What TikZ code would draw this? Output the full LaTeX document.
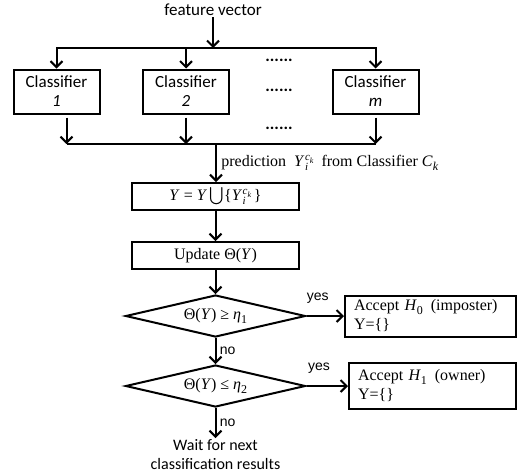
\documentclass[tikz,border=0pt]{standalone}
\usepackage{fontspec}
\usepackage{amsmath}
\setmainfont{Liberation Serif}
\newfontfamily\calib{Carlito}
\newfontfamily\arial{Liberation Sans}
\usetikzlibrary{arrows.meta,positioning,shapes.geometric}
\newcommand{\lowsub}[1]{\raisebox{-3.5pt}{\fontsize{12}{12}\selectfont #1}}
\newcommand{\Yik}{\textit{Y}\kern0.5pt\makebox[0pt][l]{\raisebox{-4pt}{\fontsize{11}{11}\selectfont\textit{i}}}\raisebox{6pt}{\fontsize{11}{11}\selectfont\textit{c}\raisebox{-2.5pt}{\fontsize{8}{8}\selectfont\textit{k}}}}

\begin{document}
\begin{tikzpicture}[
  x=1pt, y=1pt,
  font=\fontsize{16}{19}\selectfont,
  box/.style={draw, line width=2pt, minimum width=167pt, minimum height=27pt, inner sep=2pt},
  clbox/.style={draw, line width=2pt, minimum width=86pt, minimum height=44pt, align=center, inner sep=2pt, font=\calib\fontsize{17}{19}\selectfont},
  test/.style={draw, diamond, aspect=4.5, line width=2pt, minimum width=180pt, minimum height=42pt, inner sep=0pt},
  accbox/.style={draw, line width=2pt, align=left, inner xsep=9pt, inner ysep=2pt},
  lbl/.style={font=\calib\fontsize{17}{20}\selectfont, align=center, inner sep=1pt},
  yn/.style={font=\arial\fontsize{14}{16}\selectfont},
  dots/.style={font=\calib\bfseries\fontsize{17}{19}\selectfont},
  line/.style={line width=2pt},
  arrow/.style={-{Straight Barb[length=6pt, width=12pt]}, line width=2pt}
]
\useasboundingbox (0,0) rectangle (521,-474);

% input and classifiers
\node[lbl] (feat) at (213,-10) {feature vector};
\coordinate (split) at (213,-48);
\node[clbox] (c1) at (56.5,-91.5) {Classifier\\\textit{1}};
\node[clbox] (c2) at (186,-91.5) {Classifier\\\textit{2}};
\node[clbox] (cm) at (375.5,-91.5) {Classifier\\\textit{m}};
\node[dots] (d1) at (279,-60) {......};
\node[dots] (d2) at (279,-90) {......};
\node[dots] (d3) at (279,-128) {......};
\coordinate (join) at (216,-144);

% decision chain
\node[box] (ybox) at (215.5,-196.5) {\textit{Y} = \textit{Y}\,$\bigcup$\{\Yik\,\}};
\node[box, below=30pt of ybox] (upd) {Update Θ(\textit{Y})};
\node[test, below=24pt of upd] (t1) {Θ(\textit{Y}) ≥ \textit{η}\lowsub{1}};
\node[test, below=26pt of t1] (t2) {Θ(\textit{Y}) ≤ \textit{η}\lowsub{2}};
\node[lbl, font=\calib\fontsize{16}{19}\selectfont, below=30pt of t2] (wait) {Wait for next\\classification results};

\node[accbox, text width=153pt, minimum height=41pt, anchor=west] (h0) at (t1.east -| 344,0) {Accept \textit{H}\lowsub{0}\, (imposter)\\Y=\{\}};
\node[accbox, text width=149pt, minimum height=46pt, anchor=west] (h1) at (t2.east -| 348,0) {Accept \textit{H}\lowsub{1}\, (owner)\\Y=\{\}};

% connectors
\draw[arrow] (feat) -- (split);
\draw[arrow] (split) -| (c1.north);
\draw[arrow] (split) -| (cm.north);
\draw[arrow] (split -| c2.north) -- (c2.north);

\draw[arrow, shorten <=3pt] ([xshift=10pt]c1.south) -- ([xshift=10pt]c1.south |- join);
\draw[arrow, shorten <=3pt] (c2.south) -- (c2.south |- join);
\draw[arrow, shorten <=3pt] (cm.south) -- (cm.south |- join);
\draw[line] ([xshift=10pt]c1.south |- join) -- (cm.south |- join);

\draw[arrow] (join) -- node[right, xshift=1pt] {prediction \ \Yik\ \ from Classifier \textit{C}\lowsub{\textit{k}}} (join |- ybox.north);
\draw[arrow] (ybox) -- (upd);
\draw[arrow] (upd) -- (t1);
\draw[arrow] (t1) -- node[yn, right] {no} (t2);
\draw[arrow] (t2) -- node[yn, right] {no} (wait);
\draw[arrow] (t1.east) -- node[yn, pos=0.3, above=8pt] {yes} (h0.west);
\draw[arrow] (t2.east) -- node[yn, pos=0.3, above=8pt] {yes} (h1.west);

\end{tikzpicture}
\end{document}
